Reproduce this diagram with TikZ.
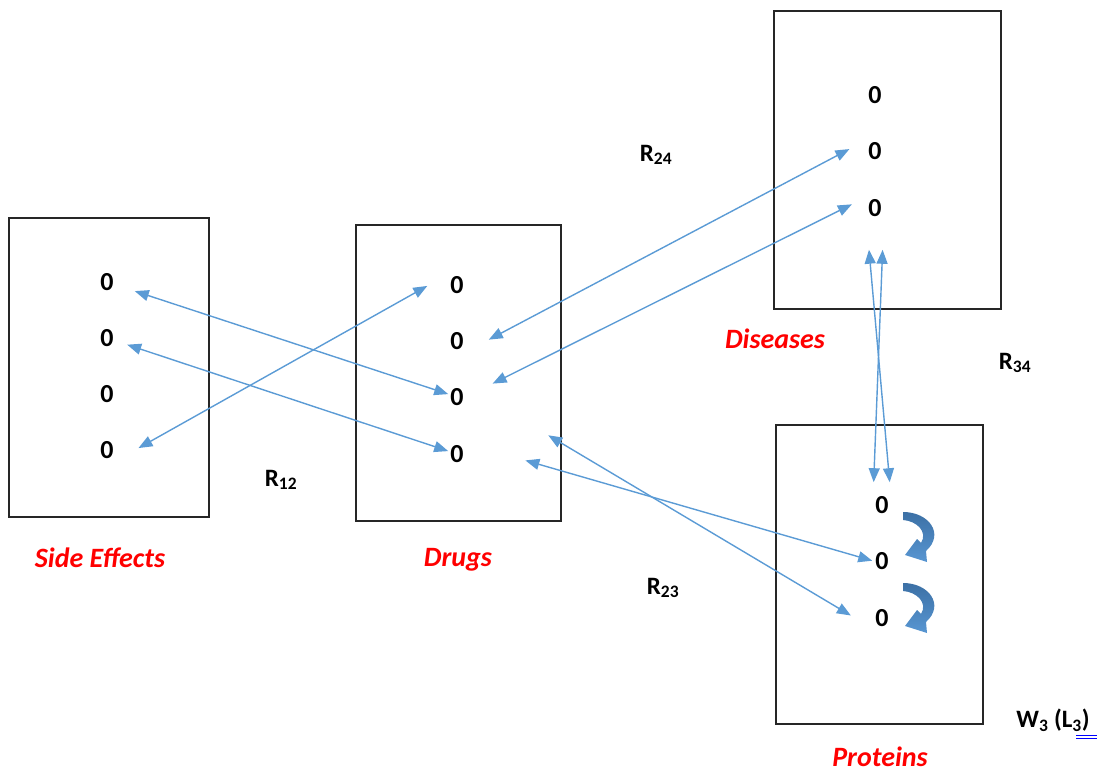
\documentclass[tikz,border=0pt]{standalone}
\usepackage{fontspec}
\setmainfont{Carlito}
\usetikzlibrary{arrows.meta}
\definecolor{linkblue}{RGB}{91,155,213}
\definecolor{loopdark}{RGB}{60,112,165}
\definecolor{looplight}{RGB}{88,150,210}
\tikzset{
  zero/.style={font=\fontsize{26}{30}\selectfont\bfseries, inner sep=2pt},
  rel/.style={font=\fontsize{25}{28}\selectfont\bfseries},
  setname/.style={font=\fontsize{28}{32}\selectfont\bfseries\itshape, text=red, inner sep=1pt},
  box/.style={draw=black!85, line width=1.2pt},
  link/.style={draw=linkblue, line width=1.4pt, {Triangle[length=14pt,width=11pt]}-{Triangle[length=14pt,width=11pt]}},
  loop/.style={top color=loopdark, bottom color=looplight, draw=none}
}

\begin{document}
\begin{tikzpicture}[x=1pt,y=-1pt]
\useasboundingbox (0,0) rectangle (1100,775);
% the four sets
\draw[box] (9,218) rectangle (209,517);
\draw[box] (356,225) rectangle (561,521);
\draw[box] (774,11) rectangle (1001,309);
\draw[box] (776,425) rectangle (983,724);
\node[setname] (sidename) at (100,558) {Side Effects};
\node[setname] (drugname) at (458,560) {Drugs};
\node[setname] (disname) at (775,339) {Diseases};
\node[setname] (protname) at (880,757) {Proteins};
% entries
\node[zero] (s1) at (107,282) {0};
\node[zero] (s2) at (107,338) {0};
\node[zero] (s3) at (107,394) {0};
\node[zero] (s4) at (107,450) {0};
\node[zero] (d1) at (457,285) {0};
\node[zero] (d2) at (457,341) {0};
\node[zero] (d3) at (457,397) {0};
\node[zero] (d4) at (457,454) {0};
\node[zero] (e1) at (875,95) {0};
\node[zero] (e2) at (875,151) {0};
\node[zero] (e3) at (875,208) {0};
\node[zero] (p1) at (882,505) {0};
\node[zero] (p2) at (882,561) {0};
\node[zero] (p3) at (882,618) {0};
% relations
\node[rel] (r12) at (281,480) {R\textsubscript{12}};
\node[rel] (r24) at (656,155) {R\textsubscript{24}};
\node[rel] (r34) at (1015,363) {R\textsubscript{34}};
\node[rel] (r23) at (663,588) {R\textsubscript{23}};
\node[rel] (w3) at (1053,720) {W\textsubscript{3} (L\textsubscript{3})};
\draw[blue, line width=0.8pt] (1076,735) -- (1097,735) (1076,738.5) -- (1097,738.5);
% links
\draw[link, shorten <=20pt] (s1) -- (d3);
\draw[link, shorten <=12pt] (s2) -- (d4);
\draw[link, shorten <=26pt, shorten >=24pt] (s4.south east) -- (d1.north west);
\draw[link, shorten <=26pt, shorten >=19pt] (d2.south east) -- (e2.north west);
\draw[link, shorten <=30pt, shorten >=16pt] (d3.east) -- (e3.north west);
\draw[link, shorten <=96pt, shorten >=26pt] (d3.north east) -- (p3.south west);
\draw[link, shorten <=62pt, shorten >=1pt] (d4.north east) -- (p2.west);
\draw[link, shorten <=31pt, shorten >=12pt] (e3.south west) -- (p1.north east);
\draw[link, shorten <=31pt, shorten >=12pt] (e3.south east) -- (p1.north west);
% loops on the proteins
\path[loop, shift={(903,512)}] (0,0) .. controls (26,0) and (42,22) .. (23,39) -- (24,50) -- (2,43) -- (14,27) -- (18,31) .. controls (25,20) and (14,9) .. (0,8) -- cycle;
\path[loop, shift={(903,583)}] (0,0) .. controls (26,0) and (42,22) .. (23,39) -- (24,50) -- (2,43) -- (14,27) -- (18,31) .. controls (25,20) and (14,9) .. (0,8) -- cycle;
\end{tikzpicture}
\end{document}
